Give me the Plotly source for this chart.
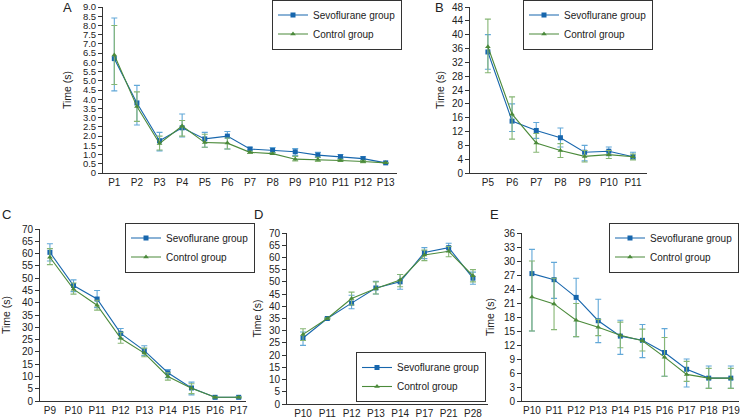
import plotly.graph_objects as go

# ---------------- data ----------------
# Panel A
a_cats = ["P1","P2","P3","P4","P5","P6","P7","P8","P9","P10","P11","P12","P13"]
a_sevo = [6.2, 3.8, 1.75, 2.45, 1.85, 2.0, 1.3, 1.22, 1.15, 0.97, 0.88, 0.78, 0.55]
a_sevo_hi = [8.4, 4.75, 2.2, 3.2, 2.2, 2.25, 1.4, 1.38, 1.32, 1.12, 1.0, 0.88, 0.57]
a_sevo_lo = [4.45, 2.6, 1.2, 1.95, 1.4, 1.3, 1.25, 1.1, 0.95, 0.85, 0.78, 0.68, 0.53]
a_ctrl = [6.4, 3.6, 1.6, 2.55, 1.65, 1.62, 1.12, 1.05, 0.75, 0.73, 0.68, 0.62, 0.55]
a_ctrl_hi = [8.0, 4.4, 2.0, 2.85, 2.1, 1.9, 1.18, 1.1, 0.9, 0.85, 0.74, 0.68, 0.57]
a_ctrl_lo = [4.8, 2.8, 1.25, 2.0, 1.4, 1.3, 1.06, 1.0, 0.65, 0.62, 0.62, 0.56, 0.53]
a_ticks = [0, 0.5, 1, 1.5, 2, 2.5, 3, 3.5, 4, 4.5, 5, 5.5, 6, 6.5, 7, 7.5, 8, 8.5, 9]
a_ticktext = ["0","0.5","1.0","1.5","2.0","2.5","3.0","3.5","4.0","4.5","5.0","5.5","6.0","6.5","7.0","7.5","8.0","8.5","9.0"]

# Panel B
b_cats = ["P5","P6","P7","P8","P9","P10","P11"]
b_sevo = [35, 15, 12.3, 10.2, 6.0, 6.3, 4.7]
b_sevo_hi = [40, 20, 14.6, 13, 8, 7.5, 6]
b_sevo_lo = [30, 12, 10, 7.5, 3.5, 5, 4]
b_ctrl = [36.5, 17, 8.7, 6.5, 4.8, 5.3, 4.7]
b_ctrl_hi = [44.5, 22, 11.4, 8.5, 6.5, 6.5, 5.5]
b_ctrl_lo = [29, 9.8, 6, 4.5, 3.2, 4.2, 3.8]
b_ticks = [0, 4, 8, 12, 16, 20, 24, 28, 32, 36, 40, 44, 48]

# Panel C
c_cats = ["P9","P10","P11","P12","P13","P14","P15","P16","P17"]
c_sevo = [60.5, 47, 41.5, 27.5, 20.5, 11.5, 5.3, 1.5, 1.5]
c_sevo_hi = [64, 49.3, 45, 29.5, 22.5, 12.8, 7.7, 1.7, 1.7]
c_sevo_lo = [57, 44.5, 38, 25.5, 18.5, 9.5, 2.5, 1.3, 1.3]
c_ctrl = [58.5, 45.5, 39, 25.5, 19.5, 10, 5.2, 1.5, 1.5]
c_ctrl_hi = [62, 48, 41, 28, 21.5, 11.5, 7, 1.7, 1.7]
c_ctrl_lo = [55.5, 43.5, 37, 23.5, 18, 8.5, 3, 1.3, 1.3]
c_ticks = [0, 5, 10, 15, 20, 25, 30, 35, 40, 45, 50, 55, 60, 65, 70]

# Panel D
d_cats = ["P10","P11","P12","P13","P14","P17","P21","P28"]
d_sevo = [27, 35, 41.3, 47.5, 50, 62, 64, 51.5]
d_sevo_hi = [29.5, 35.2, 44.5, 50.2, 53, 64, 65.8, 54]
d_sevo_lo = [24, 34.8, 39, 45, 47, 59.5, 62.5, 49]
d_ctrl = [28.5, 35, 43.2, 47.3, 50.8, 61, 62.5, 52.5]
d_ctrl_hi = [30.8, 35.2, 45.8, 50, 53, 63, 64.5, 55]
d_ctrl_lo = [26, 34.8, 40.5, 45, 48, 58.7, 60.3, 50]
d_ticks = [0, 5, 10, 15, 20, 25, 30, 35, 40, 45, 50, 55, 60, 65, 70]

# Panel E
e_cats = ["P10","P11","P12","P13","P14","P15","P16","P17","P18","P19"]
e_sevo = [27.3, 26, 22.2, 17.2, 13.9, 13, 10.4, 6.8, 4.9, 4.9]
e_sevo_hi = [32.5, 29.7, 26.3, 21.8, 17.3, 16.4, 15.5, 9, 7.5, 7.5]
e_sevo_lo = [15, 22, 13.8, 12.5, 10, 9.3, 5.3, 3, 2.7, 2.7]
e_ctrl = [22.3, 20.8, 17.3, 15.8, 14.1, 12.9, 9.4, 5.7, 4.9, 4.9]
e_ctrl_hi = [30, 26.3, 20.9, 17.5, 16.9, 15.4, 13.6, 8.5, 7, 7]
e_ctrl_lo = [15, 15.3, 13.8, 14, 11.4, 10.7, 5.3, 4.2, 2.7, 2.7]
e_ticks = [0, 3, 6, 9, 12, 15, 18, 21, 24, 27, 30, 33, 36]

series_names = ["Sevoflurane group", "Control group"]
panel_letters = ["A", "B", "C", "D", "E"]

# ---------------- style ----------------
W, H = 741, 418
FONT = "Liberation Sans, Arial, sans-serif"
BLUE = "#1766ad"
BLUE_ERR = "#62a8d8"
GREEN = "#4b8a3a"
GREEN_ERR = "#86b674"

def px_x(p):
    return p / W

def px_y(p):
    return 1 - p / H

panels = [
    dict(cats=a_cats, s=a_sevo, sh=a_sevo_hi, sl=a_sevo_lo, c=a_ctrl, ch=a_ctrl_hi, cl=a_ctrl_lo,
         ticks=a_ticks, ticktext=a_ticktext, yr=[0, 9], xd=(103, 397), yd=(7, 173), xr=[-0.5, 12.5],
         ytf=9.5, stand=9,
         leg=dict(x=px_x(337), y=px_y(24.5), xanchor="center", yanchor="middle"), letter=(67, 7)),
    dict(cats=b_cats, s=b_sevo, sh=b_sevo_hi, sl=b_sevo_lo, c=b_ctrl, ch=b_ctrl_hi, cl=b_ctrl_lo,
         ticks=b_ticks, ticktext=None, yr=[0, 48], xd=(470, 647), yd=(7, 173), xr=[-0.74, 6.58],
         ytf=10, stand=5,
         leg=dict(x=px_x(588), y=px_y(24.5), xanchor="center", yanchor="middle"), letter=(439, 7)),
    dict(cats=c_cats, s=c_sevo, sh=c_sevo_hi, sl=c_sevo_lo, c=c_ctrl, ch=c_ctrl_hi, cl=c_ctrl_lo,
         ticks=c_ticks, ticktext=None, yr=[0, 70], xd=(40, 246), yd=(229, 401), xr=[-0.42, 8.31],
         ytf=10, stand=10,
         leg=dict(x=px_x(190), y=px_y(247.5), xanchor="center", yanchor="middle"), letter=(6, 214)),
    dict(cats=d_cats, s=d_sevo, sh=d_sevo_hi, sl=d_sevo_lo, c=d_ctrl, ch=d_ctrl_hi, cl=d_ctrl_lo,
         ticks=d_ticks, ticktext=None, yr=[0, 70], xd=(287, 488), yd=(233, 404), xr=[-0.66, 7.62],
         ytf=10, stand=5,
         leg=dict(x=px_x(421), y=px_y(377), xanchor="center", yanchor="middle"), letter=(258, 214)),
    dict(cats=e_cats, s=e_sevo, sh=e_sevo_hi, sl=e_sevo_lo, c=e_ctrl, ch=e_ctrl_hi, cl=e_ctrl_lo,
         ticks=e_ticks, ticktext=None, yr=[0, 36], xd=(522, 739), yd=(233, 401), xr=[-0.45, 9.37],
         ytf=10, stand=7,
         leg=dict(x=px_x(739), y=px_y(247.5), xanchor="right", yanchor="middle"), letter=(494, 214)),
]

fig = go.Figure()
layout = dict(
    width=W, height=H, margin=dict(l=0, r=0, t=0, b=0, autoexpand=False),
    paper_bgcolor="white", plot_bgcolor="white",
    font=dict(family=FONT, size=10, color="#222222"),
    annotations=[],
)

for i, p in enumerate(panels):
    n = "" if i == 0 else str(i + 1)
    xa, ya = "x" + n, "y" + n
    legname = "legend" + n
    for name, vals, hi, lo, col, ecol, sym in [
        (series_names[0], p["s"], p["sh"], p["sl"], BLUE, BLUE_ERR, "square"),
        (series_names[1], p["c"], p["ch"], p["cl"], GREEN, GREEN_ERR, "triangle-up"),
    ]:
        fig.add_trace(go.Scatter(
            x=p["cats"], y=vals, name=name, mode="lines+markers",
            xaxis=xa, yaxis=ya, legend=legname, cliponaxis=False,
            line=dict(color=col, width=1.1),
            marker=dict(symbol=sym, size=5, color=col),
            error_y=dict(type="data", symmetric=False,
                         array=[h - v for h, v in zip(hi, vals)],
                         arrayminus=[v - l for l, v in zip(lo, vals)],
                         color=ecol, thickness=1.1, width=3),
        ))
    x0, x1 = p["xd"]
    y0, y1 = p["yd"]
    layout["xaxis" + n] = dict(
        domain=[px_x(x0), px_x(x1)], anchor=ya, type="category",
        categoryorder="array", categoryarray=p["cats"], range=p["xr"],
        showline=True, linecolor="#333333", linewidth=1, ticks="",
        showgrid=False, zeroline=False, tickfont=dict(size=10, family=FONT),
        tickangle=0, automargin=False, fixedrange=True,
    )
    yax = dict(
        domain=[px_y(y1), px_y(y0)], anchor=xa, range=p["yr"],
        tickvals=p["ticks"], showline=True, linecolor="#333333", linewidth=1,
        ticks="outside", ticklen=4, tickcolor="#333333", showgrid=False, zeroline=False,
        tickfont=dict(size=p["ytf"], family=FONT), automargin=False, fixedrange=True,
        title=dict(text="Time (s)", font=dict(size=10.5, family=FONT), standoff=p["stand"]),
    )
    if p["ticktext"] is not None:
        yax["ticktext"] = p["ticktext"]
    layout["yaxis" + n] = yax
    leg = dict(p["leg"])
    leg.update(bordercolor="#333333", borderwidth=1, bgcolor="white",
               font=dict(size=10, family=FONT), itemwidth=30, tracegroupgap=0)
    layout[legname] = leg
    lx, ly = p["letter"]
    layout["annotations"].append(dict(
        text=panel_letters[i], x=px_x(lx), y=px_y(ly), xref="paper", yref="paper",
        showarrow=False, xanchor="center", yanchor="middle",
        font=dict(size=13, family=FONT, color="#222222"),
    ))

fig.update_layout(**layout)
fig.write_html(
    "out.html",
    config={"displayModeBar": False},
    post_script="document.body.style.margin='0';document.body.style.padding='0';",
)
